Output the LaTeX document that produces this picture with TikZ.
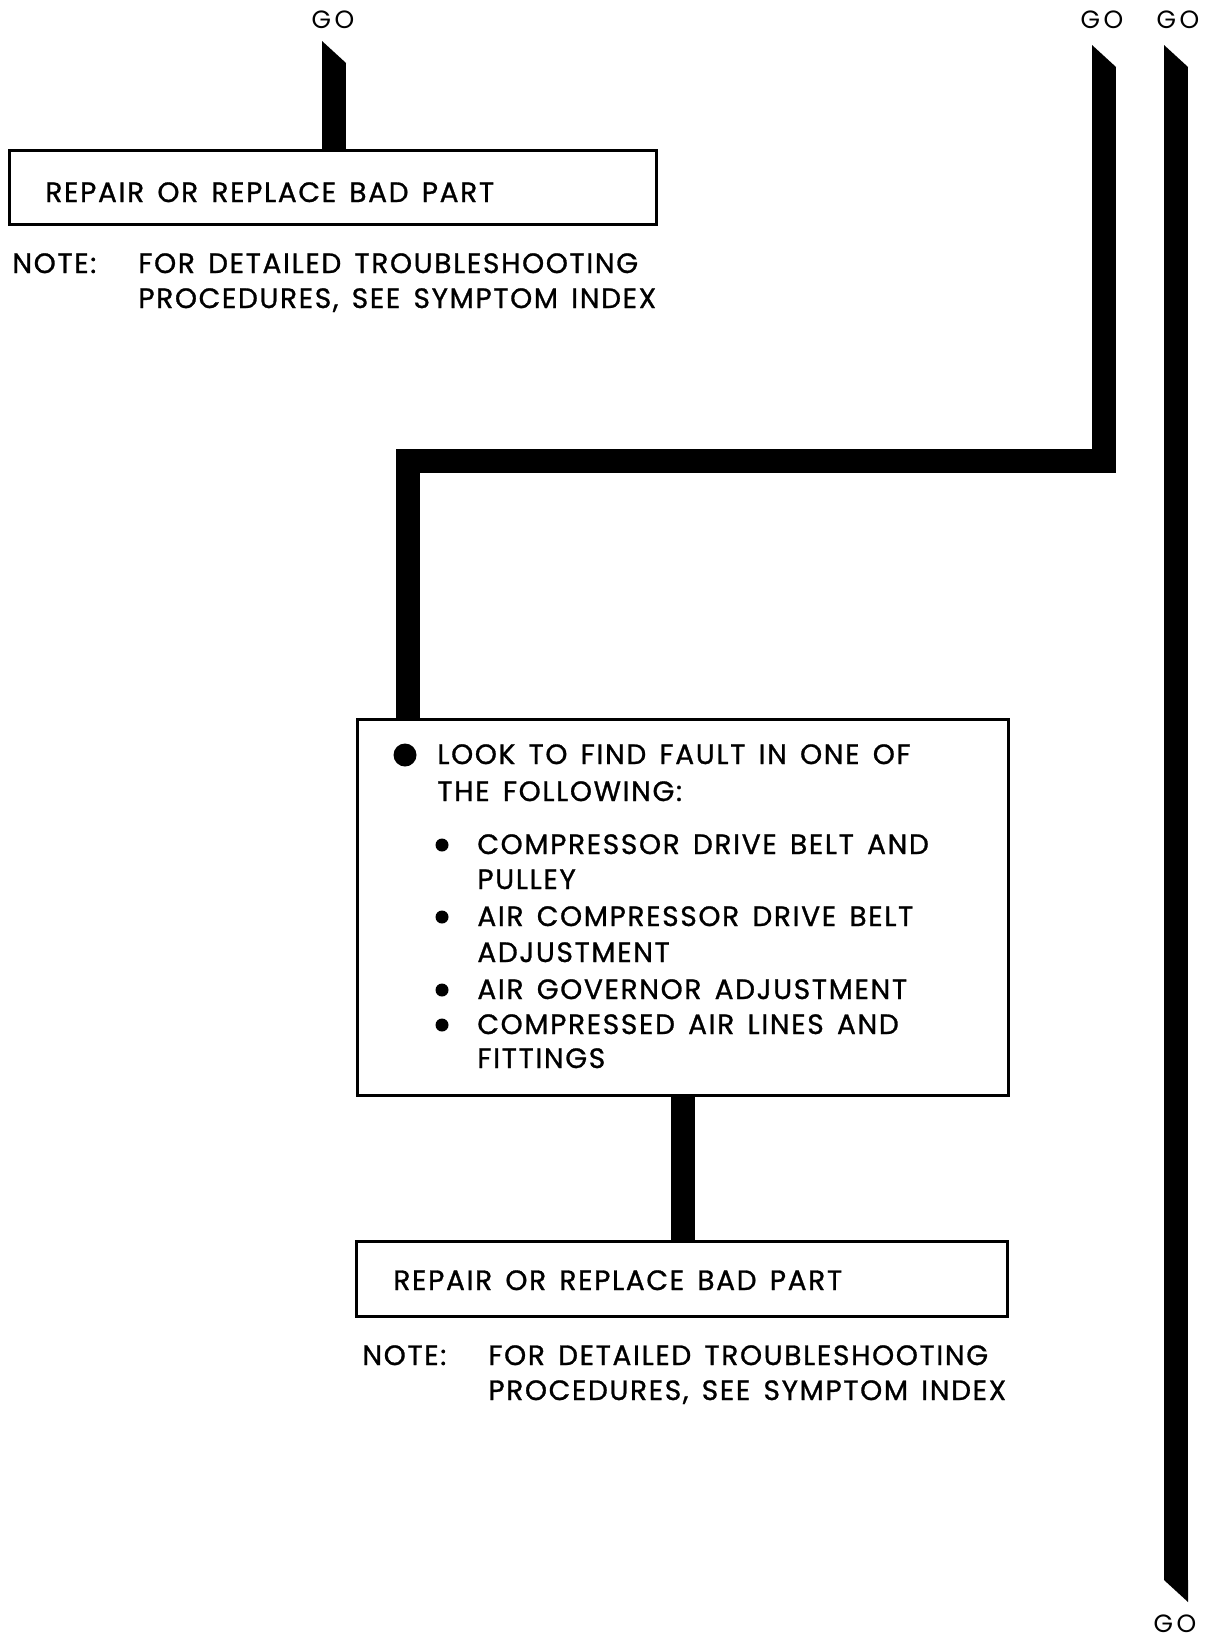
\documentclass[tikz,border=0pt]{standalone}
\usepackage{fontspec}
\setmainfont{Poppins}[LetterSpace=6,WordSpace=1.45,FakeBold=1]
\newfontfamily\gofont{Poppins}[LetterSpace=14]
\begin{document}
\begin{tikzpicture}[x=0.5pt,y=-0.5pt,
  box/.style={draw,line width=1.5pt,anchor=north west,inner sep=0pt},
  txt/.style={anchor=base west,inner sep=0pt,font=\fontsize{14}{17.85}\selectfont},
  golabel/.style={anchor=base,inner sep=0pt,text depth=0pt,font=\gofont\fontsize{12.5}{14}\selectfont},
  bar/.style={line width=12pt},
  dot/.style={circle,fill,inner sep=0pt,minimum size=#1}]
        \useasboundingbox (0,0) rectangle (1207,1638);

        % GO labels
        \node[golabel] (go1) at (333,28) {GO};
        \node[golabel] (go2) at (1102,28) {GO};
        \node[golabel] (go3) at (1178,28) {GO};
        \node[golabel] (go4) at (1175,1632) {GO};

        % Upper left box and note
        \node[box,minimum width=323.5pt,minimum height=37pt] (rep1) at (8,149) {};
        \node[txt] (rep1txt) at (45,202) {REPAIR OR REPLACE BAD PART};
        \node[txt] (note1) at (12,273) {NOTE:};
        \node[txt] (note1a) at (138,273) {FOR DETAILED TROUBLESHOOTING};
        \node[txt] (note1b) at (138,308) {PROCEDURES, SEE SYMPTOM INDEX};

        % Middle box with list
        \node[box,line width=1.7pt,minimum width=325.5pt,minimum height=188pt] (look) at (356,718) {};
        \node[dot=11.5pt] (d0) at (405,755) {};
        \node[txt] (look1) at (437,764) {LOOK TO FIND FAULT IN ONE OF};
        \node[txt] (look2) at (437,801) {THE FOLLOWING:};
        \node[dot=6.5pt] (d1) at (442,845) {};
        \node[txt] (it1a) at (477,854) {COMPRESSOR DRIVE BELT AND};
        \node[txt] (it1b) at (477,889) {PULLEY};
        \node[dot=6.5pt] (d2) at (442,917) {};
        \node[txt] (it2a) at (477,926) {AIR COMPRESSOR DRIVE BELT};
        \node[txt] (it2b) at (477,962) {ADJUSTMENT};
        \node[dot=6.5pt] (d3) at (442,990) {};
        \node[txt] (it3) at (477,999) {AIR GOVERNOR ADJUSTMENT};
        \node[dot=6.5pt] (d4) at (442,1025) {};
        \node[txt] (it4a) at (477,1034) {COMPRESSED AIR LINES AND};
        \node[txt] (it4b) at (477,1068) {FITTINGS};

        % Lower box and note
        \node[box,minimum width=325.5pt,minimum height=37.5pt] (rep2) at (355,1240) {};
        \node[txt] (rep2txt) at (393,1290) {REPAIR OR REPLACE BAD PART};
        \node[txt] (note2) at (362,1365) {NOTE:};
        \node[txt] (note2a) at (488,1365) {FOR DETAILED TROUBLESHOOTING};
        \node[txt] (note2b) at (488,1400) {PROCEDURES, SEE SYMPTOM INDEX};

        % Bar from left GO into the upper box
        \coordinate (t1) at (334,63);
        \draw[bar] (t1) -- (t1 |- rep1.north);
        \fill (t1) ++(-12,0) -- ++(0,-22) -- ++(24,22) -- cycle;

        % Bar from middle GO round to the list box
        \coordinate (t2) at (1104,67);
        \coordinate (bend) at (408,461);
        \draw[bar,line join=miter] (t2) |- (bend) -- (bend |- look.north);
        \fill (t2) ++(-12,0) -- ++(0,-22) -- ++(24,22) -- cycle;

        % Bar from list box down to the lower box
        \draw[bar] (look.south) -- (look.south |- rep2.north);

        % Long bar on the right, GO to GO
        \coordinate (t3) at (1176,67);
        \coordinate (b3) at (1176,1580);
        \draw[bar] (t3) -- (b3);
        \fill (t3) ++(-12,0) -- ++(0,-22) -- ++(24,22) -- cycle;
        \fill (b3) ++(-12,0) -- ++(24,0) -- ++(0,22) -- cycle;
    \end{tikzpicture}
\end{document}
